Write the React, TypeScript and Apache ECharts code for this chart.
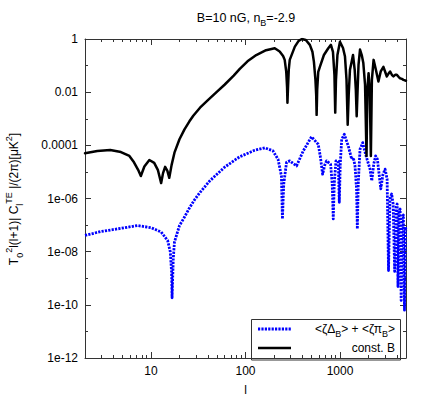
import React, { useEffect, useRef } from "react";
import * as echarts from "echarts";

// ---- data (multipole l, |value|) ----
const constBL = [2, 2.7, 3.7, 4.8, 5.9, 6.6, 7.3, 7.8, 8.5, 9.6, 10.8, 11.8, 12.8, 13.4, 14.1, 14.9, 15.6, 16.5, 17.7, 20, 22.6, 25.5, 28, 33, 40, 50, 60, 75, 87, 105, 130, 165, 204, 230, 250, 260, 270, 275.5, 278, 281.8, 287, 294, 333, 365, 395, 435, 480, 511, 530, 550, 560, 566, 574, 589, 614, 676, 752, 802, 843, 874, 891, 907, 940, 1000, 1077, 1130, 1173, 1207, 1237, 1276, 1331, 1374, 1432, 1472, 1503, 1537, 1572, 1630, 1700, 1767, 1843, 1910, 1950, 2008, 2064, 2124, 2177, 2269, 2400, 2552, 2700, 2884, 3000, 3133, 3270, 3397, 3540, 3682, 3840, 4000, 4170, 4335, 4500, 4698, 5000];
const constBV = [5.0e-5, 6.1e-5, 6.7e-5, 5.6e-5, 4.0e-5, 2.3e-5, 1.2e-5, 7.0e-6, 1.6e-5, 2.8e-5, 2.2e-5, 1.2e-5, 3.8e-6, 9.0e-6, 1.55e-5, 1.1e-5, 6.0e-6, 1.8e-5, 5.3e-5, 1.7e-4, 4.0e-4, 8.0e-4, 1.3e-3, 2.6e-3, 5.0e-3, 1.05e-2, 1.9e-2, 4.2e-2, 7.5e-2, 0.145, 0.25, 0.38, 0.45, 0.34, 0.23, 0.164, 0.058, 0.015, 0.004, 0.015, 0.069, 0.164, 0.515, 0.85, 1.0, 0.92, 0.6, 0.33, 0.138, 0.029, 0.008, 0.0014, 0.0124, 0.058, 0.092, 0.25, 0.45, 0.6, 0.33, 0.045, 0.0017, 0.029, 0.25, 0.79, 0.46, 0.218, 0.029, 0.0006, 0.008, 0.069, 0.142, 0.25, 0.069, 0.0124, 0.00125, 0.0124, 0.107, 0.4, 0.25, 0.124, 0.019, 4e-5, 0.0124, 0.052, 0.0124, 4e-5, 0.029, 0.164, 0.07, 0.025, 0.06, 0.09, 0.06, 0.039, 0.05, 0.06, 0.045, 0.039, 0.045, 0.045, 0.038, 0.033, 0.032, 0.029, 0.027];

const zetaL = [2, 2.94, 4.42, 7.2, 10, 12.8, 15, 16, 16.5, 16.7, 17.2, 17.7, 20, 22.6, 25.5, 28.8, 32.6, 41.6, 60, 86.6, 125, 160, 195, 221, 240, 246, 254, 272, 294, 347, 408, 500, 589, 621, 655, 690, 722, 796, 828, 849, 870, 907, 960, 984, 1007, 1043, 1111, 1225, 1331, 1384, 1443, 1498, 1527, 1561, 1630, 1741, 1888, 2081, 2171, 2280, 2383, 2490, 2705, 2850, 3005, 3155, 3265, 3380, 3524, 3655, 3793, 3936, 4030, 4111, 4210, 4335, 4444, 4580, 4690, 4818, 4940, 5000];
const zetaV = [4.1e-8, 5.7e-8, 7.2e-8, 9.6e-8, 8.0e-8, 5.5e-8, 2.6e-8, 9.8e-9, 1.7e-9, 1.85e-10, 5.5e-9, 2.3e-8, 9.6e-8, 2.0e-7, 4.4e-7, 8.8e-7, 1.6e-6, 4.5e-6, 1.5e-5, 3.7e-5, 6.5e-5, 8.1e-5, 6.2e-5, 3.0e-5, 7.1e-6, 1.7e-7, 3.5e-6, 2.3e-5, 2.6e-5, 1.68e-5, 6.1e-5, 2.1e-4, 1.09e-4, 3.6e-5, 8.2e-6, 1.8e-5, 2.6e-5, 1.95e-5, 3.5e-6, 1.7e-7, 3.5e-6, 2.6e-5, 2.5e-5, 7.2e-7, 1.95e-5, 1.68e-4, 2.6e-4, 9.4e-5, 3.0e-5, 3.5e-5, 1.68e-5, 2.3e-6, 7.2e-8, 3.5e-6, 7.1e-5, 1.26e-4, 4.0e-5, 1.27e-5, 4.6e-6, 2.0e-5, 4.0e-5, 3.0e-5, 2.3e-6, 8.0e-6, 1.27e-5, 5.4e-6, 1.95e-9, 9.6e-7, 1.47e-6, 6.2e-7, 1.8e-9, 4.8e-7, 6.2e-7, 4.9e-10, 3.4e-7, 4.0e-7, 1.47e-10, 2.0e-7, 2.4e-7, 6.3e-11, 8.5e-8, 6.1e-8];

// ---- axes ----
const xMin = 2;
const xMax = 5000;
const xTickValues = [10, 100, 1000];
const xTickLabels = ["10", "100", "1000"];
const yTickExps = [0, -2, -4, -6, -8, -10, -12];
const yTickLabels = ["1", "0.01", "0.0001", "1e-06", "1e-08", "1e-10", "1e-12"];
const yMinorExps = [-1, -3, -5, -7, -9, -11];

const FONT = "'Liberation Sans', Arial, Helvetica, sans-serif";
const AXIS_COLOR = "#333";

function xMinorValues(): number[] {
  const out: number[] = [];
  for (let n = 0; n <= 3; n++) {
    for (let k = 2; k <= 9; k++) {
      const v = k * Math.pow(10, n);
      if (v >= xMin && v <= xMax) out.push(Math.log10(v));
    }
  }
  return out;
}

function toLog(ls: number[], vs: number[]) {
  return ls.map((l, i) => [Math.log10(l), Math.log10(vs[i])]);
}

export default function App() {
  const ref = useRef<HTMLDivElement>(null);

  useEffect(() => {
    if (!ref.current) return;
    const chart = echarts.init(ref.current, undefined, { renderer: "svg" });
    const lxMin = Math.log10(xMin);
    const lxMax = Math.log10(xMax);
    const xMajor = xTickValues.map((v) => Math.log10(v));
    const xMinor = xMinorValues();

    const xLabelFmt = (v: number) => {
      const i = xMajor.findIndex((e) => Math.abs(e - v) < 1e-6);
      return i >= 0 ? xTickLabels[i] : "";
    };
    const yLabelFmt = (v: number) => {
      const i = yTickExps.findIndex((e) => Math.abs(e - v) < 1e-6);
      return i >= 0 ? yTickLabels[i] : "";
    };

    const baseX = (position: string, ticks: number[], len: number, labels: boolean, line: boolean, name?: string) => ({
      type: "value",
      min: lxMin,
      max: lxMax,
      position,
      name: name || "",
      nameLocation: "middle",
      nameGap: 26,
      nameTextStyle: { fontFamily: FONT, fontSize: 12, color: "#000" },
      axisLine: { show: line, onZero: false, lineStyle: { color: AXIS_COLOR, width: 1 } },
      axisTick: { show: true, inside: true, length: len, customValues: ticks, lineStyle: { color: AXIS_COLOR, width: 1 } },
      axisLabel: labels
        ? { show: true, customValues: xMajor, formatter: xLabelFmt, fontFamily: FONT, fontSize: 12, color: "#000", margin: 7 }
        : { show: false },
      splitLine: { show: false },
    });

    const baseY = (position: string, ticks: number[], len: number, labels: boolean, line: boolean) => ({
      type: "value",
      min: -12,
      max: 0,
      position,
      axisLine: { show: line, onZero: false, lineStyle: { color: AXIS_COLOR, width: 1 } },
      axisTick: { show: true, inside: true, length: len, customValues: ticks, lineStyle: { color: AXIS_COLOR, width: 1 } },
      axisLabel: labels
        ? { show: true, customValues: yTickExps, formatter: yLabelFmt, fontFamily: FONT, fontSize: 12, color: "#000", margin: 7 }
        : { show: false },
      splitLine: { show: false },
    });

    const option: any = {
      animation: false,
      backgroundColor: "#fff",
      grid: { left: 85, right: 23, top: 39, bottom: 41, containLabel: false },
      xAxis: [
        baseX("bottom", xMajor, 6, true, true, "l"),
        baseX("bottom", xMinor, 3, false, false),
        baseX("top", xMajor, 6, false, true),
        baseX("top", xMinor, 3, false, false),
      ],
      yAxis: [
        baseY("left", yTickExps, 6, true, true),
        baseY("left", yMinorExps, 3, false, false),
        baseY("right", yTickExps, 6, false, true),
        baseY("right", yMinorExps, 3, false, false),
      ],
      series: [
        {
          name: "<ζΔB> + <ζπB>",
          type: "line",
          xAxisIndex: 0,
          yAxisIndex: 0,
          data: toLog(zetaL, zetaV),
          showSymbol: false,
          symbol: "none",
          clip: true,
          lineStyle: { color: "#0000ff", width: 2.8, type: [2.2, 1.2], cap: "butt", join: "round" },
          z: 2,
        },
        {
          name: "const. B",
          type: "line",
          xAxisIndex: 0,
          yAxisIndex: 0,
          data: toLog(constBL, constBV),
          showSymbol: false,
          symbol: "none",
          clip: true,
          lineStyle: { color: "#000", width: 2.5, cap: "round", join: "round" },
          z: 3,
        },
      ],
      graphic: [
        {
          type: "text",
          x: 246,
          y: 18,
          style: {
            text: "{n|B=10 nG, n}{s|B}{n|=-2.9}",
            align: "center",
            verticalAlign: "middle",
            fill: "#000",
            fontFamily: FONT,
            rich: {
              n: { fontSize: 12.5, fontFamily: FONT, lineHeight: 18, verticalAlign: "middle", fill: "#000" },
              s: { fontSize: 9, fontFamily: FONT, lineHeight: 9, verticalAlign: "bottom", fill: "#000" },
            },
          },
        },
        {
          type: "text",
          x: 14,
          y: 199,
          rotation: Math.PI / 2,
          style: {
            text: "{n|T}{s|0}{p|2}{n|l(l+1)| C}{s|l}{p|TE}{n| |/(2π)[μK}{p|2}{n|]}",
            align: "center",
            verticalAlign: "middle",
            fill: "#000",
            fontFamily: FONT,
            rich: {
              n: { fontSize: 12, fontFamily: FONT, lineHeight: 20, verticalAlign: "middle", fill: "#000" },
              s: { fontSize: 9, fontFamily: FONT, lineHeight: 9, verticalAlign: "bottom", fill: "#000" },
              p: { fontSize: 9, fontFamily: FONT, lineHeight: 9, verticalAlign: "top", fill: "#000" },
            },
          },
        },
        {
          type: "group",
          z: 100,
          children: [
            {
              type: "rect",
              shape: { x: 251.5, y: 319.5, width: 149, height: 40.5 },
              style: { fill: "#fff", stroke: "#333", lineWidth: 1 },
            },
            {
              type: "line",
              shape: { x1: 258, y1: 329, x2: 291, y2: 329 },
              style: { stroke: "#0000ff", lineWidth: 2.8, lineDash: [2.2, 1.2], lineCap: "butt" },
            },
            {
              type: "text",
              x: 395,
              y: 329,
              style: {
                text: "{n|<ζΔ}{s|B}{n|> + <ζπ}{s|B}{n|>}",
                align: "right",
                verticalAlign: "middle",
                fill: "#000",
                fontFamily: FONT,
                rich: {
                  n: { fontSize: 12, fontFamily: FONT, lineHeight: 18, verticalAlign: "middle", fill: "#000" },
                  s: { fontSize: 9, fontFamily: FONT, lineHeight: 9, verticalAlign: "bottom", fill: "#000" },
                },
              },
            },
            {
              type: "line",
              shape: { x1: 258, y1: 348, x2: 291, y2: 348 },
              style: { stroke: "#000", lineWidth: 2.5 },
            },
            {
              type: "text",
              x: 395,
              y: 348,
              style: {
                text: "const. B",
                align: "right",
                verticalAlign: "middle",
                fill: "#000",
                fontFamily: FONT,
                fontSize: 12,
              },
            },
          ],
        },
      ],
    };

    chart.setOption(option);
    return () => {
      chart.dispose();
    };
  }, []);

  return (
    <div
      ref={ref}
      style={{ position: "fixed", left: 0, top: 0, width: 429, height: 401, background: "#fff" }}
    />
  );
}
